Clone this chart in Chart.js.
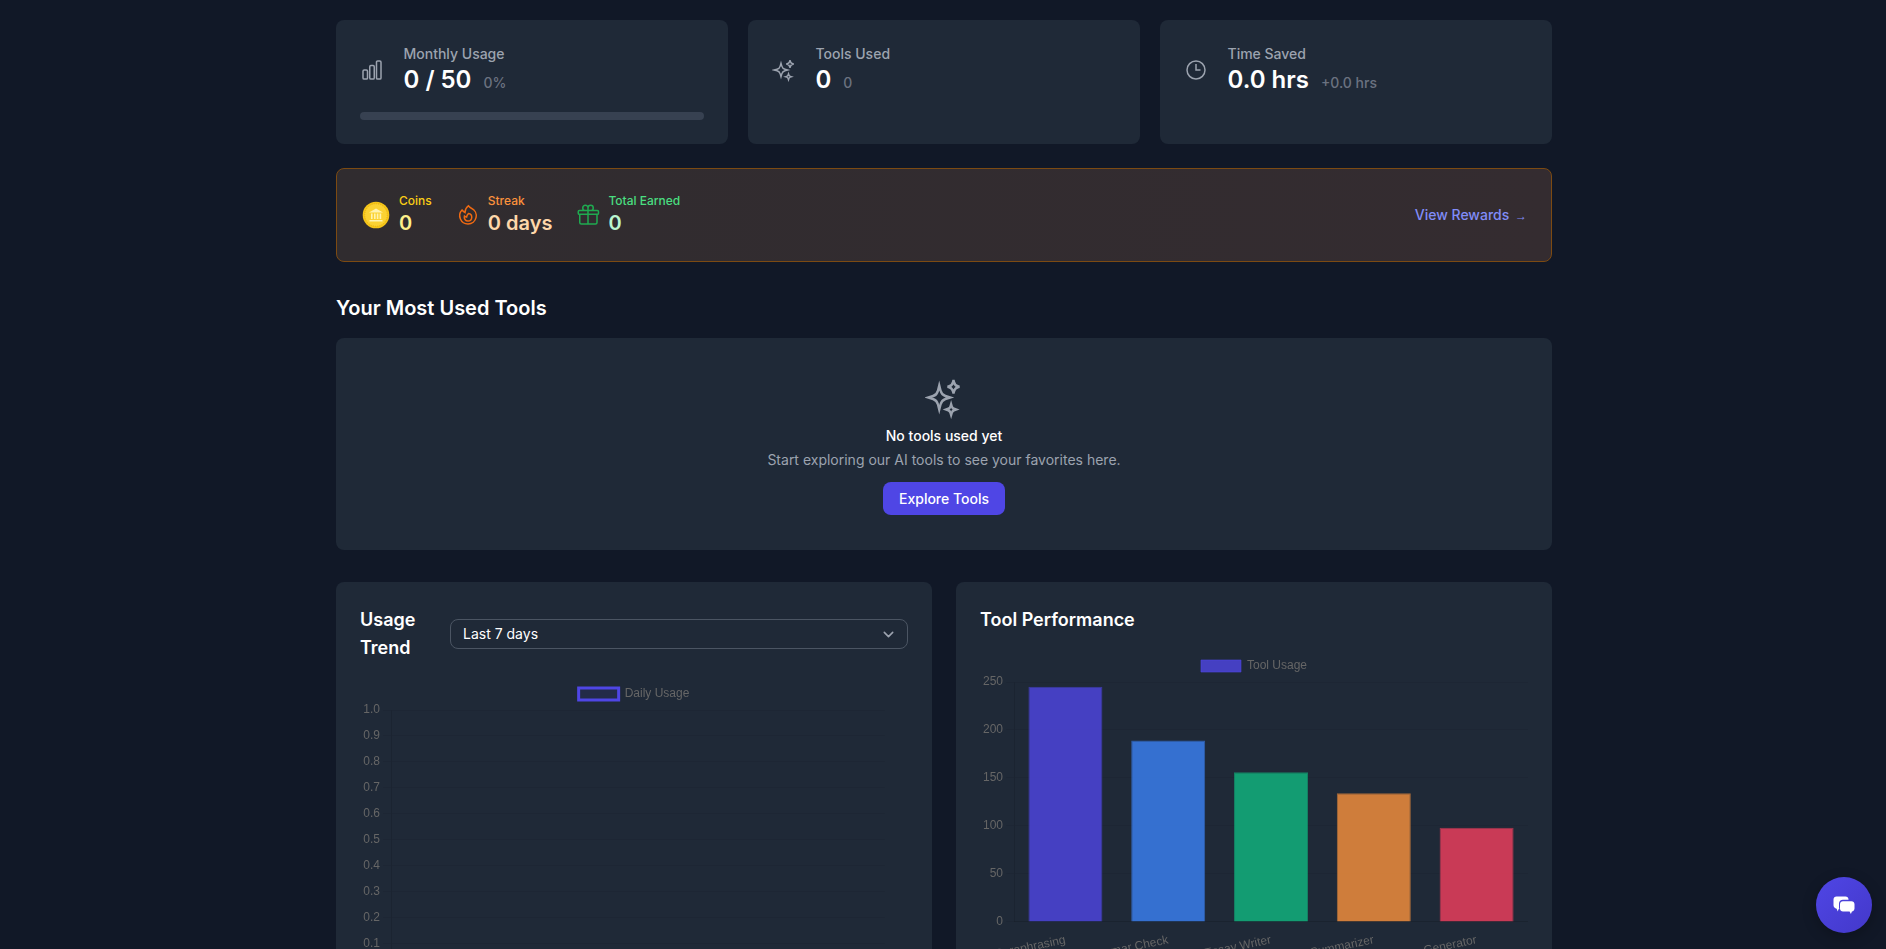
<!DOCTYPE html>
<html lang="en">
<head>
<meta charset="utf-8">
<title>Dashboard</title>
<script src="https://cdn.jsdelivr.net/npm/chart.js@4/dist/chart.umd.min.js"></script>
<style>
  * { box-sizing: border-box; margin: 0; padding: 0; }
  html, body { width: 1886px; height: 949px; overflow: hidden; background: #111827; }
  body { font-family: Inter, "Noto Sans", sans-serif; color: #fff; position: relative; }
  main { position: absolute; left: 336px; top: 20px; width: 1216px; }
  .card { background: #1f2937; border-radius: 8px; }
  .stats { display: grid; grid-template-columns: repeat(3, 392px); gap: 20px; }
  .stat { padding: 24px; height: 124px; }
  .stat-row { display: flex; align-items: center; }
  .stat-row svg { width: 24px; height: 24px; margin-right: 19.5px; color: #9ca3af; }
  .stat-label { font-size: 14px; line-height: 20px; font-weight: 500; color: #9ca3af; }
  .stat-value { display: flex; align-items: baseline; }
  .stat-value b { font-size: 24px; line-height: 32px; font-weight: 600; }
  .stat-value span { font-size: 14px; font-weight: 500; margin-left: 12px; color: #6b7280; }
  .bar-track { height: 8px; margin-top: 16px; border-radius: 4px; background: #374151; }
  .rewards { margin-top: 24px; height: 94px; padding: 24px 24px 24px 22px; display: flex; justify-content: space-between; align-items: center;
    border: 1px solid #7c4a12; border-radius: 8px; background: linear-gradient(90deg, #302c2f, #342c30); }
  .reward-list { display: flex; gap: 24px; }
  .reward { display: flex; align-items: center; gap: 8px; }
  .reward svg { display: block; }
  .reward small { display: block; font-size: 12px; line-height: 16px; font-weight: 500; }
  .reward b { display: block; font-size: 20px; line-height: 28px; font-weight: 600; }
  .rewards a { font-size: 14px; line-height: 20px; font-weight: 500; color: #818cf8; margin-top: 0; }
  .rewards a i { font-style: normal; font-family: "Liberation Sans", sans-serif; font-size: 12px; margin-left: 2px; }
  h2 { font-size: 20px; line-height: 28px; font-weight: 600; margin: 32px 0 16px; }
  .empty { height: 212px; padding-top: 38px; text-align: center; }
  .empty svg { display: block; margin: 0 auto 7px; width: 38px; height: 43px; color: #9ca3af; }
  .empty h4 { font-size: 14px; line-height: 20px; font-weight: 500; }
  .empty p { font-size: 14px; line-height: 20px; margin-top: 4px; color: #9ca3af; }
  .empty span { display: inline-block; margin-top: 12px; height: 33px; line-height: 33px; padding: 0 16px; border-radius: 8px;
    background: #4f46e5; font-size: 14px; font-weight: 500; }
  .charts { display: grid; grid-template-columns: 596px 596px; gap: 24px; margin-top: 32px; }
  .chart-card { padding: 24px; height: 460px; }
  .chart-head { display: flex; align-items: center; gap: 24px; margin-bottom: 16px; }
  h3 { font-size: 18px; line-height: 28px; font-weight: 600; }
  .usage h3 { width: 66px; }
  .select { flex: 1; height: 30px; line-height: 28px; padding: 0 12px; position: relative; font-size: 14px;
    border: 1px solid #4b5563; border-radius: 8px; }
  .select svg { position: absolute; right: 8.500px; top: 3.500px; width: 21px; height: 21px; color: #9ca3af; }
  .chart-box { width: 548px; height: 320px; position: relative; }
  .chat { position: absolute; left: 1816px; top: 877px; width: 56px; height: 56px; border-radius: 50%;
    background: linear-gradient(135deg, #4f46e5, #4338ca); display: flex; align-items: center; justify-content: center;
    box-shadow: 0 4px 14px rgba(0,0,0,.25); }
</style>
</head>
<body>
<main>
  <section class="stats">
    <div class="card stat">
      <div class="stat-row">
        <svg viewBox="0 0 24 24" fill="none" stroke="currentColor" stroke-width="1.5"><path d="M3 13.125C3 12.504 3.504 12 4.125 12h2.25c.621 0 1.125.504 1.125 1.125v6.75C7.5 20.496 6.996 21 6.375 21h-2.25A1.125 1.125 0 013 19.875v-6.75zM9.75 8.625c0-.621.504-1.125 1.125-1.125h2.25c.621 0 1.125.504 1.125 1.125v11.25c0 .621-.504 1.125-1.125 1.125h-2.25a1.125 1.125 0 01-1.125-1.125V8.625zM16.5 4.125c0-.621.504-1.125 1.125-1.125h2.25C20.496 3 21 3.504 21 4.125v15.75c0 .621-.504 1.125-1.125 1.125h-2.25a1.125 1.125 0 01-1.125-1.125V4.125z"/></svg>
        <div>
          <div class="stat-label">Monthly Usage</div>
          <div class="stat-value"><b>0 / 50</b><span>0%</span></div>
        </div>
      </div>
      <div class="bar-track"></div>
    </div>
    <div class="card stat">
      <div class="stat-row">
        <svg viewBox="0 0 24 24" fill="none" stroke="currentColor" stroke-width="1.5"><path d="M9.813 15.904L9 18.75l-.813-2.846a4.5 4.5 0 00-3.09-3.09L2.25 12l2.846-.813a4.5 4.5 0 003.09-3.09L9 5.25l.813 2.846a4.5 4.5 0 003.09 3.09L15.75 12l-2.846.813a4.5 4.5 0 00-3.09 3.09zM18.259 8.715L18 9.75l-.259-1.035a3.375 3.375 0 00-2.455-2.456L14.25 6l1.036-.259a3.375 3.375 0 002.455-2.456L18 2.25l.259 1.035a3.375 3.375 0 002.456 2.456L21.75 6l-1.035.259a3.375 3.375 0 00-2.456 2.456zM16.894 20.567L16.5 21.75l-.394-1.183a2.25 2.25 0 00-1.423-1.423L13.5 18.75l1.183-.394a2.25 2.25 0 001.423-1.423l.394-1.183.394 1.183a2.25 2.25 0 001.423 1.423l1.183.394-1.183.394a2.25 2.25 0 00-1.423 1.423z"/></svg>
        <div>
          <div class="stat-label">Tools Used</div>
          <div class="stat-value"><b>0</b><span>0</span></div>
        </div>
      </div>
    </div>
    <div class="card stat">
      <div class="stat-row">
        <svg viewBox="0 0 24 24" fill="none" stroke="currentColor" stroke-width="1.5"><path d="M12 6v6h4.5m4.5 0a9 9 0 11-18 0 9 9 0 0118 0z"/></svg>
        <div>
          <div class="stat-label">Time Saved</div>
          <div class="stat-value"><b>0.0 hrs</b><span>+0.0 hrs</span></div>
        </div>
      </div>
    </div>
  </section>

  <section class="rewards">
    <div class="reward-list">
      <div class="reward">
        <svg width="32" height="32" viewBox="0 0 32 32">
          <circle cx="17" cy="16" r="13.300" fill="#f5c518"/>
          <circle cx="17" cy="16" r="11.300" fill="#fbd232" stroke="#e2a90c" stroke-width=".8" stroke-dasharray="1 1.2"/>
          <path d="M10 13.500L17 9.500l7 4zM10.500 21h13v1.600h-13z" fill="#fff3b0"/>
          <path d="M12 14.500h1.600V20H12zM15 14.500h1.600V20H15zM17.800 14.500h1.600V20h-1.600zM20.600 14.500h1.600V20h-1.600z" fill="#fff3b0"/>
        </svg>
        <div><small style="color:#facc15">Coins</small><b style="color:#fef08a">0</b></div>
      </div>
      <div class="reward">
        <svg width="24" height="24" viewBox="0 0 24 24" fill="none" stroke="#f06a12" stroke-width="1.5"><path d="M15.362 5.214A8.252 8.252 0 0112 21 8.25 8.25 0 016.038 7.048 8.287 8.287 0 009 9.6a8.983 8.983 0 013.361-6.867 8.21 8.21 0 003 2.48z"/><path d="M12 18a3.75 3.75 0 00.495-7.467 5.99 5.99 0 00-1.925 3.546 5.974 5.974 0 01-2.133-1A3.75 3.75 0 0012 18z"/></svg>
        <div><small style="color:#fb923c">Streak</small><b style="color:#fed7aa">0 days</b></div>
      </div>
      <div class="reward">
        <svg width="24" height="24" viewBox="0 0 24 24" fill="none" stroke="#1faa50" stroke-width="1.5"><path d="M21 11.25v8.25a1.5 1.5 0 01-1.5 1.5H5.25a1.5 1.5 0 01-1.5-1.5v-8.25M12 4.875A2.625 2.625 0 109.375 7.5H12m0-2.625V7.5m0-2.625A2.625 2.625 0 1114.625 7.5H12m0 0V21m-8.625-9.75h18c.621 0 1.125-.504 1.125-1.125v-1.5c0-.621-.504-1.125-1.125-1.125h-18c-.621 0-1.125.504-1.125 1.125v1.5c0 .621.504 1.125 1.125 1.125z"/></svg>
        <div><small style="color:#4ade80">Total Earned</small><b style="color:#bbf7d0">0</b></div>
      </div>
    </div>
    <a>View Rewards <i>→</i></a>
  </section>

  <h2>Your Most Used Tools</h2>
  <section class="card empty">
    <svg viewBox="0 0 24 24" preserveAspectRatio="none" fill="none" stroke="currentColor" stroke-width="1.5"><path d="M9.813 15.904L9 18.75l-.813-2.846a4.5 4.5 0 00-3.09-3.09L2.25 12l2.846-.813a4.5 4.5 0 003.09-3.09L9 5.25l.813 2.846a4.5 4.5 0 003.09 3.09L15.75 12l-2.846.813a4.5 4.5 0 00-3.09 3.09zM18.259 8.715L18 9.75l-.259-1.035a3.375 3.375 0 00-2.455-2.456L14.25 6l1.036-.259a3.375 3.375 0 002.455-2.456L18 2.25l.259 1.035a3.375 3.375 0 002.456 2.456L21.75 6l-1.035.259a3.375 3.375 0 00-2.456 2.456zM16.894 20.567L16.5 21.75l-.394-1.183a2.25 2.25 0 00-1.423-1.423L13.5 18.75l1.183-.394a2.25 2.25 0 001.423-1.423l.394-1.183.394 1.183a2.25 2.25 0 001.423 1.423l1.183.394-1.183.394a2.25 2.25 0 00-1.423 1.423z"/></svg>
    <h4>No tools used yet</h4>
    <p>Start exploring our AI tools to see your favorites here.</p>
    <span>Explore Tools</span>
  </section>

  <section class="charts">
    <div class="card chart-card usage">
      <div class="chart-head">
        <h3>Usage Trend</h3>
        <div class="select">Last 7 days
          <svg viewBox="0 0 20 20" fill="none" stroke="currentColor" stroke-width="1.5" stroke-linecap="round" stroke-linejoin="round"><path d="M6 8l4 4 4-4"/></svg>
        </div>
      </div>
      <div class="chart-box"><canvas id="usageChart"></canvas></div>
    </div>
    <div class="card chart-card">
      <div class="chart-head"><h3>Tool Performance</h3></div>
      <div class="chart-box"><canvas id="toolChart"></canvas></div>
    </div>
  </section>
</main>

<div class="chat">
  <svg width="24" height="24" viewBox="0 0 24 24" fill="#fff">
    <path d="M4.500 3.500h9c1.700 0 3 1.200 3 2.800v.5H11c-2.400 0-4 1.600-4 3.800v3.600c0 .7.1 1.300.4 1.800l-.9.2-.7 2.300-1.200-2.700C2.900 15.400 1.500 14 1.500 12.300V6.500c0-1.700 1.300-3 3-3z"/>
    <path d="M11 8.300h8.500c1.700 0 3 1.200 3 2.900v4.300c0 1.600-1.100 2.800-2.600 2.900l-1 2.500-1.300-2.400H11c-1.700 0-3-1.300-3-3v-4.300c0-1.700 1.300-2.900 3-2.900z"/>
  </svg>
</div>

<script>
// ===== CHART DATA =====
const usageLabels = ['9/24/25', '9/25/25', '9/26/25', '9/27/25', '9/28/25', '9/29/25', '9/30/25'];
const usageValues = [0, 0, 0, 0, 0, 0, 0];

const toolLabels = ['Paraphrasing', 'Grammar Check', 'Essay Writer', 'Summarizer', 'Citation Generator'];
const toolValues = [245, 189, 156, 134, 98];
const toolColors = [
  'rgba(79, 70, 229, 0.8)',
  'rgba(59, 130, 246, 0.8)',
  'rgba(16, 185, 129, 0.8)',
  'rgba(251, 146, 60, 0.8)',
  'rgba(244, 63, 94, 0.8)'
];
const toolBorders = [
  'rgba(79, 70, 229, 0.6)',
  'rgba(59, 130, 246, 0.6)',
  'rgba(16, 185, 129, 0.6)',
  'rgba(251, 146, 60, 0.6)',
  'rgba(244, 63, 94, 0.6)'
];

// ===== INITIALIZE CHARTS =====
new Chart(document.getElementById('usageChart'), {
  type: 'line',
  data: {
    labels: usageLabels,
    datasets: [{
      label: 'Daily Usage',
      data: usageValues,
      borderColor: '#4f46e5',
      backgroundColor: 'rgba(79, 70, 229, 0.1)',
      borderWidth: 3,
      fill: true,
      tension: 0.4
    }]
  },
  options: {
    responsive: true,
    maintainAspectRatio: false,
    animation: false,
    scales: {
      x: { grid: { display: false } },
      y: {
        beginAtZero: true,
        grid: { color: 'rgba(0, 0, 0, 0.05)' },
        afterFit: (scale) => { scale.width = 31; }
      }
    }
  }
});

new Chart(document.getElementById('toolChart'), {
  type: 'bar',
  data: {
    labels: toolLabels,
    datasets: [{
      label: 'Tool Usage',
      data: toolValues,
      backgroundColor: toolColors,
      borderColor: toolBorders,
      borderWidth: 1
    }]
  },
  options: {
    responsive: true,
    maintainAspectRatio: false,
    animation: false,
    scales: {
      x: { grid: { display: false } },
      y: {
        beginAtZero: true,
        grid: { color: 'rgba(0, 0, 0, 0.05)' }
      }
    }
  }
});
</script>
</body>
</html>
